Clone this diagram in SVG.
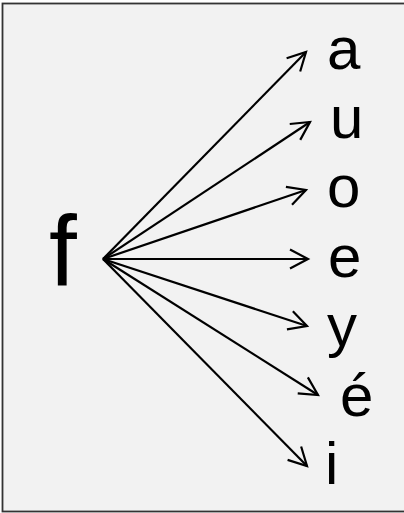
<svg xmlns="http://www.w3.org/2000/svg" width="404" height="513" viewBox="0 0 404 513">
  <style>
    .lbl { font-family: "Liberation Sans", "DejaVu Sans", sans-serif; font-size: 60px; fill: #000; }
    .src { font-family: "Liberation Sans", "DejaVu Sans", sans-serif; font-size: 100px; fill: #000; }
    .edge { stroke: #000; stroke-width: 2.2; fill: none; marker-end: url(#arrow); }
  </style>
  <defs>
    <marker id="arrow" markerUnits="userSpaceOnUse" markerWidth="40" markerHeight="40" viewBox="-20 -20 40 40" refX="0" refY="0" orient="auto">
      <path d="M-18,-9.5 L0,0 L-18,9.5" fill="none" stroke="#000" stroke-width="2.2" stroke-linejoin="miter"/>
    </marker>
  </defs>
  <rect x="2.5" y="3.5" width="410" height="508" fill="#f2f2f2" stroke="#333" stroke-width="1.8"/>
  <g id="node-f"><text class="src" x="49" y="286">f</text></g>
  <g id="node-a"><text class="lbl" x="327" y="69">a</text></g>
  <g id="node-u"><text class="lbl" x="330" y="138">u</text></g>
  <g id="node-o"><text class="lbl" x="327" y="207">o</text></g>
  <g id="node-e"><text class="lbl" x="328" y="277">e</text></g>
  <g id="node-y"><text class="lbl" x="327" y="346">y</text></g>
  <g id="node-eacute"><text class="lbl" x="340" y="416">é</text></g>
  <g id="node-i"><text class="lbl" x="325" y="484">i</text></g>
  <g id="connectors">
    <line class="edge" x1="103" y1="259" x2="306" y2="52"/>
    <line class="edge" x1="103" y1="259" x2="310" y2="122"/>
    <line class="edge" x1="103" y1="259" x2="306" y2="190"/>
    <line class="edge" x1="103" y1="259" x2="308" y2="259"/>
    <line class="edge" x1="103" y1="259" x2="307" y2="326"/>
    <line class="edge" x1="103" y1="259" x2="318" y2="395"/>
    <line class="edge" x1="103" y1="259" x2="307" y2="466"/>
  </g>
</svg>
